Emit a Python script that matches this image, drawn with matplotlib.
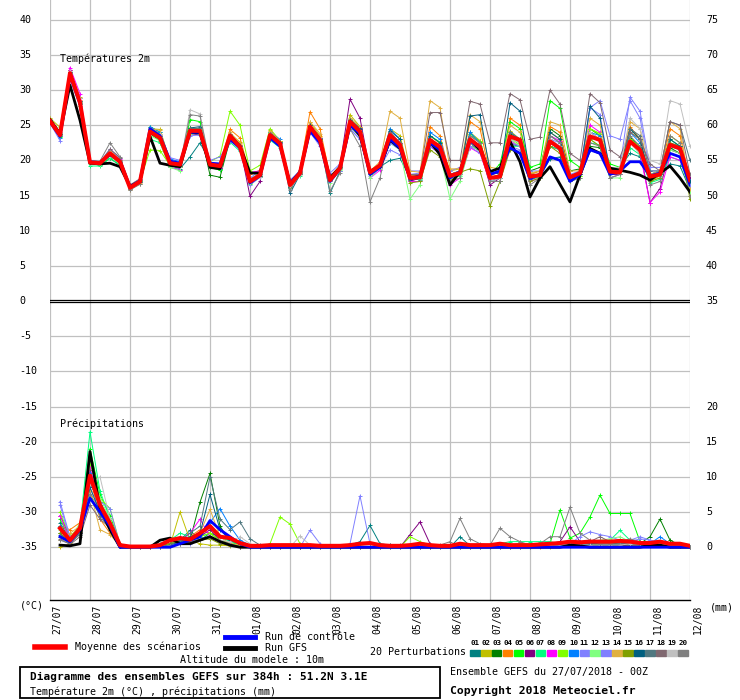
import numpy as np
import matplotlib
matplotlib.use("Agg")
import matplotlib.pyplot as plt
from matplotlib.patches import Rectangle

MONO = "DejaVu Sans Mono"

# forecast steps: every 6h from 27/07 00Z to 12/08 00Z
hours = np.arange(0, 385, 6)
days = ["27/07", "28/07", "29/07", "30/07", "31/07", "01/08", "02/08", "03/08", "04/08",
        "05/08", "06/08", "07/08", "08/08", "09/08", "10/08", "11/08", "12/08"]

# --- temperature 2m (degC), 65 points ---
t_mean = [25.6, 23.6, 32.4, 28.2, 19.7, 19.6, 21.0, 19.8, 16.1, 17.0,
          24.1, 23.2, 19.6, 19.4, 24.2, 24.2, 19.4, 19.2, 23.5, 21.9,
          17.0, 17.9, 23.6, 22.4, 16.5, 18.2, 24.8, 22.9, 17.2, 18.9,
          25.5, 24.1, 18.3, 19.3, 23.6, 22.2, 17.5, 17.6, 22.9, 21.9,
          17.8, 18.2, 23.0, 21.9, 17.5, 17.7, 23.4, 22.9, 17.7, 17.9,
          22.7, 21.7, 17.6, 18.2, 23.4, 22.9, 18.4, 18.3, 22.7, 21.5,
          17.7, 18.0, 22.2, 21.7, 17.2]
t_ctrl = [25.5, 23.4, 32.0, 28.0, 19.8, 19.7, 20.8, 19.9, 16.2, 17.1,
          24.5, 23.5, 19.9, 19.6, 24.0, 24.0, 19.6, 19.5, 23.0, 21.8,
          16.8, 17.8, 23.2, 22.0, 16.7, 18.3, 24.2, 22.5, 17.0, 18.8,
          25.0, 23.8, 18.0, 19.0, 23.0, 21.8, 17.3, 17.8, 22.5, 21.5,
          17.5, 18.4, 22.8, 21.8, 18.0, 18.5, 21.8, 21.0, 17.4, 18.0,
          20.5, 20.0, 17.0, 18.0, 21.5, 21.0, 18.0, 18.5, 19.8, 19.8,
          17.8, 18.2, 21.0, 20.5, 16.5]
t_gfs = [25.8, 23.8, 30.7, 25.7, 19.6, 19.5, 19.6, 19.1, 16.3, 17.0,
         23.4, 19.6, 19.3, 19.1, 24.0, 23.9, 19.0, 18.8, 23.5, 22.0,
         18.2, 18.2, 23.5, 22.3, 16.7, 18.3, 24.5, 22.6, 17.5, 19.0,
         25.2, 23.5, 18.5, 19.0, 22.9, 21.7, 17.5, 17.7, 22.7, 20.8,
         16.5, 18.4, 22.9, 21.5, 18.4, 18.9, 22.7, 19.8, 14.8, 17.5,
         19.1, 16.6, 14.1, 17.9, 21.7, 21.0, 18.9, 18.6, 18.3, 17.9,
         17.2, 18.2, 19.2, 17.5, 15.5]

t01 = [25.8, 23.9, 32.6, 28.5, 19.9, 19.8, 21.2, 19.9, 16.0, 17.1,
       24.0, 23.0, 19.3, 18.8, 20.5, 22.5, 19.8, 19.0, 23.2, 22.0,
       17.3, 18.0, 23.9, 22.6, 16.3, 18.0, 24.4, 23.0, 15.3, 18.5,
       25.9, 24.6, 18.6, 19.1, 20.0, 20.3, 17.5, 17.2, 22.0, 21.4,
       17.2, 18.0, 22.5, 21.8, 17.0, 17.0, 22.3, 22.0, 17.2, 17.7,
       20.2, 20.5, 17.8, 18.5, 21.5, 21.0, 18.8, 19.0, 21.0, 20.5,
       17.0, 18.0, 19.5, 19.2, 15.8]
t02 = [26.0, 24.7, 32.8, 29.0, 19.9, 19.6, 21.0, 19.5, 16.0, 16.6,
       24.5, 24.4, 19.9, 19.0, 24.6, 24.5, 19.0, 18.8, 23.8, 22.6,
       16.9, 18.0, 24.0, 22.8, 16.1, 18.0, 25.4, 23.5, 17.0, 19.0,
       26.5, 24.8, 18.0, 19.5, 24.5, 23.5, 17.8, 18.0, 23.5, 22.4,
       18.5, 18.8, 24.0, 22.8, 17.5, 18.0, 24.2, 23.0, 18.0, 18.5,
       24.0, 23.0, 17.5, 18.5, 24.5, 23.5, 18.0, 18.5, 24.0, 23.0,
       17.0, 17.8, 23.5, 22.5, 15.0]
t03 = [25.4, 23.5, 32.0, 28.0, 19.6, 19.3, 20.3, 19.3, 16.3, 17.0,
       23.8, 22.8, 19.3, 19.2, 24.6, 24.4, 17.9, 17.6, 23.0, 21.6,
       16.9, 17.7, 23.2, 22.0, 16.2, 18.4, 24.8, 23.0, 17.4, 19.0,
       25.3, 24.0, 18.5, 19.4, 23.2, 21.8, 17.2, 17.8, 22.3, 21.0,
       17.5, 18.5, 22.5, 21.2, 17.8, 18.5, 23.8, 23.0, 18.5, 19.0,
       24.5, 23.5, 18.5, 18.8, 22.0, 21.8, 18.2, 18.8, 23.2, 22.0,
       17.2, 18.3, 21.8, 21.0, 16.8]
t04 = [25.9, 23.8, 32.5, 28.6, 20.0, 19.8, 21.3, 20.0, 16.2, 17.2,
       24.6, 23.8, 19.6, 19.3, 24.3, 24.0, 19.6, 19.5, 24.4, 23.2,
       18.0, 18.6, 24.3, 22.7, 16.7, 18.7, 26.9, 24.5, 17.8, 19.2,
       25.8, 24.5, 18.5, 19.5, 24.0, 22.5, 17.8, 17.8, 24.8, 23.5,
       18.0, 18.5, 25.5, 24.5, 18.0, 18.2, 26.0, 25.0, 18.0, 18.5,
       24.8, 24.0, 17.5, 18.3, 24.5, 23.8, 18.5, 18.8, 24.8, 23.0,
       17.5, 18.0, 24.5, 23.5, 17.0]
t05 = [25.5, 23.3, 32.0, 27.8, 19.6, 19.5, 20.8, 19.6, 16.1, 17.0,
       24.8, 24.0, 19.2, 19.0, 25.8, 25.5, 19.0, 18.6, 23.4, 21.6,
       16.6, 17.6, 23.0, 22.0, 16.4, 18.0, 24.2, 22.4, 17.0, 18.8,
       25.0, 23.6, 18.0, 19.2, 23.0, 22.0, 17.3, 17.8, 23.5, 22.6,
       17.0, 18.5, 23.8, 22.6, 18.0, 19.5, 25.5, 24.5, 19.0, 19.5,
       28.5, 27.4, 20.0, 19.0, 24.5, 23.5, 19.5, 19.0, 23.0, 22.0,
       18.0, 18.5, 23.0, 22.0, 16.5]
t06 = [25.7, 23.7, 32.8, 28.8, 19.8, 19.6, 21.3, 20.0, 16.0, 16.9,
       24.4, 23.3, 19.3, 19.0, 23.8, 23.6, 19.0, 18.9, 23.4, 22.0,
       14.9, 17.0, 23.6, 22.5, 16.8, 18.2, 25.0, 23.2, 17.0, 19.2,
       28.7, 26.0, 18.5, 19.3, 23.6, 22.5, 17.0, 17.5, 22.0, 21.0,
       17.0, 18.0, 22.0, 21.5, 16.5, 17.5, 22.5, 22.0, 17.5, 18.0,
       22.0, 21.5, 17.0, 18.0, 24.0, 23.0, 18.0, 18.0, 22.5, 21.5,
       14.0, 16.0, 21.5, 21.0, 17.5]
t07 = [25.5, 23.5, 31.8, 28.0, 19.2, 19.2, 20.3, 19.3, 16.3, 17.2,
       23.0, 22.5, 19.0, 18.7, 24.5, 24.5, 19.0, 18.8, 22.6, 21.3,
       17.3, 18.2, 22.9, 21.8, 16.3, 17.8, 24.0, 22.5, 17.5, 19.3,
       24.8, 23.5, 18.3, 19.0, 22.5, 21.5, 17.7, 17.3, 22.0, 21.5,
       17.5, 17.8, 22.8, 22.0, 17.5, 17.5, 22.0, 22.0, 17.8, 18.0,
       22.0, 21.5, 17.0, 17.8, 22.5, 22.2, 17.5, 18.0, 21.8, 20.8,
       16.8, 17.3, 20.5, 20.0, 16.0]
t08 = [25.8, 24.0, 33.2, 29.5, 19.8, 19.6, 21.5, 20.2, 16.0, 17.0,
       24.2, 23.4, 19.0, 18.7, 24.0, 24.0, 19.2, 18.9, 23.6, 22.0,
       18.3, 18.5, 23.5, 22.3, 16.7, 18.2, 24.5, 22.8, 17.5, 19.0,
       25.0, 23.8, 17.5, 18.6, 23.8, 22.5, 17.0, 17.0, 22.0, 21.0,
       16.5, 17.5, 21.8, 21.0, 17.0, 17.5, 22.8, 22.0, 17.0, 17.5,
       23.5, 22.8, 17.5, 18.0, 25.0, 24.0, 17.5, 18.0, 22.5, 21.0,
       14.0, 15.5, 20.5, 20.0, 16.5]
t09 = [25.6, 23.6, 32.4, 28.2, 19.8, 19.7, 20.9, 19.6, 16.2, 17.0,
       21.5, 21.4, 19.3, 19.0, 24.2, 24.5, 19.8, 20.6, 27.0, 25.0,
       18.5, 19.3, 24.5, 22.8, 16.4, 18.0, 24.5, 22.8, 17.6, 19.0,
       25.2, 24.0, 18.2, 19.3, 22.8, 21.8, 17.6, 17.8, 22.8, 22.0,
       17.2, 18.0, 23.5, 22.8, 17.0, 17.5, 23.2, 22.2, 17.5, 18.0,
       22.5, 21.8, 17.0, 17.8, 24.5, 23.8, 18.5, 18.5, 23.0, 22.0,
       17.5, 18.0, 22.5, 21.5, 16.8]
t10 = [25.4, 23.2, 32.2, 28.1, 19.7, 19.5, 20.7, 19.8, 16.1, 17.0,
       24.8, 24.0, 20.2, 19.8, 24.0, 24.0, 19.5, 19.4, 23.0, 21.8,
       17.0, 18.0, 24.0, 23.0, 16.5, 18.5, 25.0, 23.2, 17.3, 19.0,
       25.5, 24.2, 18.3, 19.5, 24.5, 23.0, 17.5, 17.7, 24.0, 23.0,
       18.0, 18.5, 24.0, 22.5, 17.0, 17.5, 24.0, 23.0, 17.5, 18.2,
       22.5, 21.5, 17.0, 18.0, 24.0, 23.5, 18.5, 18.5, 24.0, 22.5,
       18.0, 18.5, 22.0, 21.5, 17.0]
t11 = [25.3, 22.8, 32.4, 28.0, 19.6, 19.5, 20.8, 19.7, 16.4, 17.2,
       24.0, 23.6, 20.4, 20.0, 23.5, 23.6, 20.0, 20.5, 22.8, 21.5,
       16.5, 17.6, 23.5, 22.6, 17.0, 18.6, 24.0, 22.3, 17.0, 18.5,
       24.5, 23.0, 17.8, 19.0, 21.5, 20.8, 18.0, 18.2, 23.0, 22.0,
       18.0, 18.5, 22.5, 21.5, 18.0, 18.5, 22.0, 21.5, 17.5, 18.0,
       23.0, 22.0, 17.5, 18.0, 27.5, 28.5, 23.5, 23.0, 28.5, 26.0,
       18.5, 18.5, 21.0, 20.5, 16.5]
t12 = [25.7, 23.5, 32.1, 28.0, 19.5, 19.4, 20.6, 19.5, 16.2, 17.1,
       23.5, 22.8, 19.0, 18.5, 23.8, 23.8, 19.2, 19.0, 23.2, 21.6,
       16.8, 17.8, 23.2, 22.2, 16.6, 18.0, 24.5, 22.8, 16.8, 18.6,
       24.8, 23.5, 17.5, 19.0, 23.0, 21.5, 14.5, 16.5, 22.5, 21.0,
       14.5, 17.0, 22.0, 21.5, 17.0, 17.0, 23.0, 22.0, 17.5, 17.5,
       22.5, 21.5, 17.0, 17.5, 23.0, 22.0, 17.5, 17.5, 22.5, 21.0,
       17.0, 17.5, 21.5, 21.0, 15.5]
t13 = [25.5, 23.4, 32.6, 28.3, 19.6, 19.8, 21.6, 20.3, 16.5, 17.3,
       24.5, 23.5, 20.0, 19.5, 24.0, 24.0, 19.5, 19.5, 23.0, 22.0,
       17.5, 18.5, 23.5, 22.5, 17.2, 18.5, 24.0, 22.0, 18.2, 19.5,
       24.5, 23.0, 18.0, 19.0, 22.5, 21.5, 18.5, 18.5, 22.0, 21.0,
       18.5, 19.0, 22.0, 21.0, 17.5, 18.0, 22.5, 22.0, 18.5, 18.5,
       23.0, 22.5, 18.0, 18.5, 27.5, 26.5, 18.5, 19.0, 29.0, 27.0,
       19.0, 19.0, 22.5, 22.0, 17.0]
t14 = [25.9, 24.0, 32.6, 28.8, 20.0, 19.8, 21.4, 20.1, 15.8, 16.8,
       24.5, 24.3, 19.8, 19.4, 24.4, 24.4, 19.5, 19.0, 24.0, 22.4,
       17.2, 18.3, 24.2, 22.8, 16.5, 18.3, 25.5, 23.8, 17.5, 19.0,
       26.0, 24.8, 18.5, 19.8, 27.0, 26.0, 18.5, 18.3, 28.5, 27.5,
       18.8, 18.8, 26.5, 25.5, 19.0, 18.8, 25.0, 24.0, 18.2, 18.5,
       25.5, 25.0, 18.5, 18.5, 26.0, 25.0, 18.5, 19.0, 25.5, 24.5,
       18.0, 18.5, 25.5, 24.5, 16.0]
t15 = [25.6, 23.7, 32.3, 28.3, 19.7, 19.8, 21.0, 19.8, 16.0, 17.0,
       24.0, 23.0, 19.5, 19.2, 24.3, 24.3, 19.2, 19.0, 23.4, 21.8,
       17.0, 17.8, 23.6, 22.4, 16.4, 18.2, 24.8, 22.9, 17.0, 18.9,
       25.4, 24.0, 18.0, 19.0, 23.5, 22.0, 16.8, 17.0, 21.5, 20.5,
       17.5, 18.3, 18.8, 18.5, 13.5, 17.0, 21.5, 21.0, 17.0, 17.5,
       22.0, 21.0, 17.0, 18.0, 23.0, 22.0, 18.0, 18.5, 24.5, 23.0,
       17.0, 17.5, 22.5, 22.0, 14.5]
t16 = [25.8, 23.8, 32.5, 28.4, 19.8, 19.7, 21.1, 19.9, 16.0, 16.9,
       24.2, 23.4, 19.8, 19.4, 24.6, 24.8, 19.4, 19.1, 23.6, 22.0,
       16.8, 17.8, 23.8, 22.6, 15.3, 18.0, 25.0, 23.0, 17.2, 19.0,
       25.8, 24.4, 18.2, 19.4, 24.2, 23.0, 17.5, 17.5, 23.5, 22.5,
       17.5, 18.0, 26.3, 26.5, 18.5, 18.0, 28.2, 27.0, 18.0, 18.0,
       24.0, 23.0, 17.5, 18.0, 27.7, 26.0, 18.5, 18.5, 24.5, 23.0,
       17.5, 18.0, 23.0, 22.0, 17.0]
t17 = [25.5, 23.5, 32.2, 28.0, 19.7, 19.6, 20.9, 19.8, 16.3, 17.2,
       24.0, 23.2, 19.5, 19.2, 24.5, 24.6, 19.6, 19.2, 23.2, 21.6,
       17.0, 17.9, 23.3, 22.2, 16.6, 18.3, 24.6, 22.8, 17.3, 18.9,
       25.0, 23.8, 18.4, 19.3, 23.5, 22.3, 17.7, 17.9, 23.0, 22.0,
       18.0, 18.5, 23.5, 22.5, 17.5, 18.0, 24.0, 23.0, 18.0, 18.0,
       23.5, 22.5, 17.5, 18.5, 23.5, 23.0, 18.5, 18.5, 24.5, 23.5,
       18.5, 18.5, 25.5, 25.0, 20.0]
t18 = [25.7, 23.6, 32.4, 28.4, 19.8, 19.7, 21.6, 20.4, 16.5, 17.4,
       24.2, 23.4, 19.6, 19.3, 24.4, 24.3, 19.4, 19.3, 23.8, 22.2,
       17.2, 18.0, 23.7, 22.5, 17.0, 18.5, 24.6, 22.8, 17.5, 19.3,
       25.2, 24.0, 18.5, 19.5, 24.0, 22.5, 18.0, 18.0, 26.8, 26.8,
       20.0, 20.0, 28.4, 28.0, 22.5, 22.5, 29.5, 28.6, 23.0, 23.3,
       30.0, 28.0, 21.0, 20.0, 29.5, 28.2, 21.5, 20.5, 24.0, 23.0,
       19.5, 18.5, 25.5, 25.0, 18.0]
t19 = [25.9, 24.1, 32.7, 28.8, 19.9, 19.8, 21.2, 19.9, 15.9, 16.6,
       24.3, 23.7, 19.5, 19.0, 27.2, 26.6, 19.5, 19.0, 23.5, 21.8,
       16.8, 17.6, 23.4, 22.2, 16.3, 17.9, 24.5, 22.5, 17.0, 18.8,
       24.8, 23.6, 18.5, 19.5, 23.5, 22.0, 17.5, 17.5, 22.5, 21.5,
       17.5, 18.0, 22.5, 21.5, 17.0, 17.5, 23.0, 22.5, 17.5, 18.0,
       23.0, 22.0, 17.5, 18.5, 24.0, 23.0, 19.0, 19.0, 26.0, 24.5,
       20.0, 19.5, 28.5, 28.0, 22.0]
t20 = [25.6, 23.6, 32.3, 28.1, 19.9, 19.9, 22.5, 20.5, 15.8, 16.6,
       24.0, 23.5, 19.5, 19.4, 26.5, 26.3, 19.5, 19.4, 23.5, 22.0,
       17.4, 18.0, 23.4, 22.3, 15.8, 18.0, 24.2, 22.5, 15.6, 18.2,
       24.5, 22.0, 14.1, 17.5, 23.8, 22.5, 17.5, 17.5, 22.5, 21.5,
       17.0, 17.5, 23.5, 22.5, 17.0, 17.0, 23.5, 22.5, 16.5, 17.5,
       23.5, 22.5, 17.0, 17.5, 22.5, 22.0, 17.5, 18.0, 23.5, 22.0,
       16.5, 17.0, 23.5, 22.5, 15.0]

# --- 6h precipitation (mm), 64 points from +6h ---
p_mean = [2.7, 1.0, 2.7, 10.2, 6.0, 3.4, 0.3, 0.1, 0.1, 0.1, 0.3, 1.0, 1.3, 1.1, 2.0, 3.0,
          1.5, 1.3, 0.6, 0.2, 0.2, 0.3, 0.3, 0.3, 0.3, 0.3, 0.2, 0.2, 0.2, 0.3, 0.5, 0.6,
          0.3, 0.2, 0.2, 0.3, 0.5, 0.3, 0.2, 0.2, 0.5, 0.3, 0.3, 0.3, 0.5, 0.3, 0.3, 0.3,
          0.4, 0.5, 0.6, 0.8, 0.7, 0.8, 0.8, 0.8, 0.9, 0.8, 0.6, 0.6, 0.8, 0.5, 0.5, 0.2]
p_ctrl = [1.5, 0.8, 2.5, 7.0, 5.0, 3.0, 0.0, 0.0, 0.0, 0.0, 0.0, 0.0, 0.5, 1.0, 1.5, 3.8,
          2.5, 1.5, 0.5, 0.0, 0.0, 0.0, 0.0, 0.0, 0.0, 0.0, 0.0, 0.0, 0.0, 0.0, 0.0, 0.0,
          0.0, 0.0, 0.0, 0.0, 0.0, 0.0, 0.0, 0.0, 0.0, 0.0, 0.0, 0.0, 0.0, 0.0, 0.0, 0.0,
          0.0, 0.0, 0.0, 0.0, 0.0, 0.0, 0.0, 0.0, 0.0, 0.0, 0.0, 0.0, 0.0, 0.0, 0.0, 0.0]
p_gfs = [0.3, 0.2, 0.5, 13.6, 5.5, 2.5, 0.0, 0.0, 0.0, 0.0, 1.0, 1.3, 0.5, 0.5, 1.0, 1.5,
         0.8, 0.3, 0.0, 0.0, 0.0, 0.0, 0.0, 0.0, 0.0, 0.0, 0.0, 0.0, 0.0, 0.0, 0.0, 0.0,
         0.0, 0.0, 0.0, 0.0, 0.0, 0.0, 0.0, 0.0, 0.0, 0.0, 0.0, 0.0, 0.0, 0.0, 0.0, 0.0,
         0.0, 0.0, 0.0, 0.3, 0.2, 0.0, 0.0, 0.0, 0.0, 0.0, 0.0, 0.3, 0.3, 0.0, 0.0, 0.0]

p01 = [3.5, 1.0, 2.0, 9.0, 6.5, 3.5, 0.3, 0.0, 0.0, 0.0, 0.3, 0.5, 1.0, 2.4, 1.0, 2.0,
       1.5, 1.0, 0.5, 0.2, 0.0, 0.0, 0.0, 0.0, 0.0, 0.0, 0.0, 0.0, 0.0, 0.3, 0.8, 3.1,
       0.5, 0.3, 0.0, 0.0, 0.0, 0.3, 0.0, 0.0, 1.5, 0.2, 0.0, 0.0, 0.0, 0.3, 0.5, 0.3,
       0.5, 0.5, 0.5, 0.3, 0.8, 0.5, 0.3, 0.5, 0.3, 0.3, 0.5, 0.3, 0.5, 0.3, 0.3, 0.1]
p02 = [0.0, 0.5, 2.0, 7.5, 5.5, 3.0, 0.2, 0.0, 0.0, 0.0, 0.0, 0.2, 5.0, 1.0, 0.5, 0.3,
       0.3, 0.2, 0.0, 0.0, 0.0, 0.0, 0.0, 0.0, 0.0, 0.0, 0.0, 0.0, 0.0, 0.0, 0.2, 0.0,
       0.0, 0.0, 0.0, 0.3, 0.0, 0.0, 0.0, 0.0, 0.0, 0.0, 0.0, 0.0, 0.0, 0.0, 0.0, 0.0,
       0.2, 0.0, 0.3, 0.2, 0.5, 0.5, 0.3, 0.3, 0.5, 0.5, 0.3, 0.2, 0.3, 0.2, 0.2, 0.1]
p03 = [2.0, 0.8, 2.5, 11.0, 6.0, 3.0, 0.2, 0.0, 0.0, 0.0, 0.0, 0.3, 1.0, 1.0, 6.4, 10.5,
       3.0, 0.8, 0.3, 0.0, 0.0, 0.0, 0.0, 0.0, 0.0, 0.0, 0.0, 0.0, 0.0, 0.0, 0.0, 0.0,
       0.0, 0.0, 0.0, 0.0, 0.0, 0.0, 0.0, 0.0, 0.0, 0.0, 0.0, 0.0, 0.0, 0.0, 0.3, 0.3,
       0.3, 0.3, 0.5, 0.5, 0.5, 0.5, 0.3, 0.3, 0.3, 0.3, 0.5, 1.5, 4.0, 1.0, 0.3, 0.1]
p04 = [3.0, 2.5, 3.5, 10.0, 4.0, 2.0, 0.5, 0.0, 0.0, 0.0, 0.0, 0.3, 0.8, 1.5, 2.5, 2.0,
       1.0, 0.5, 0.2, 0.0, 0.0, 0.0, 0.0, 0.0, 0.0, 0.0, 0.0, 0.0, 0.0, 0.0, 0.0, 0.0,
       0.0, 0.0, 0.0, 0.0, 0.0, 0.0, 0.0, 0.0, 0.0, 0.0, 0.0, 0.0, 0.0, 0.0, 0.0, 0.0,
       0.0, 0.3, 0.5, 0.5, 0.3, 0.3, 0.5, 0.3, 0.3, 0.3, 0.3, 0.3, 0.3, 0.3, 0.2, 0.1]
p05 = [4.0, 1.2, 3.0, 14.0, 7.5, 4.5, 0.5, 0.0, 0.0, 0.0, 0.0, 0.2, 0.5, 1.5, 1.5, 2.0,
       1.0, 0.5, 0.2, 0.0, 0.0, 0.0, 0.0, 0.0, 0.0, 0.0, 0.0, 0.0, 0.0, 0.0, 0.0, 0.0,
       0.0, 0.0, 0.0, 0.0, 0.0, 0.0, 0.0, 0.0, 0.0, 0.0, 0.0, 0.0, 0.0, 0.3, 0.5, 0.5,
       0.5, 0.5, 5.3, 1.3, 2.0, 4.3, 7.4, 4.8, 4.8, 4.8, 0.8, 0.3, 0.5, 0.5, 0.3, 0.1]
p06 = [4.5, 1.5, 2.5, 9.5, 6.0, 3.5, 0.3, 0.0, 0.0, 0.0, 0.0, 0.5, 1.5, 1.0, 1.5, 2.5,
       1.0, 0.5, 0.0, 0.0, 0.0, 0.0, 0.0, 0.0, 0.0, 0.0, 0.0, 0.0, 0.0, 0.0, 0.0, 0.0,
       0.0, 0.0, 0.0, 1.8, 3.6, 0.5, 0.0, 0.0, 0.0, 0.0, 0.0, 0.0, 0.0, 0.0, 0.0, 0.0,
       0.3, 0.5, 0.8, 2.9, 0.8, 0.3, 0.3, 0.3, 0.3, 0.3, 0.3, 0.3, 0.3, 0.3, 0.2, 0.1]
p07 = [3.0, 1.0, 3.0, 16.4, 8.0, 4.0, 0.3, 0.0, 0.0, 0.0, 0.5, 1.0, 2.0, 1.5, 2.0, 3.0,
       1.5, 0.8, 0.3, 0.0, 0.0, 0.0, 0.0, 0.0, 0.0, 0.0, 0.0, 0.0, 0.0, 0.0, 0.0, 0.0,
       0.0, 0.0, 0.0, 0.0, 0.0, 0.0, 0.0, 0.0, 0.0, 0.0, 0.0, 0.0, 0.5, 0.8, 0.8, 0.8,
       0.8, 0.8, 0.5, 0.5, 0.5, 0.5, 0.5, 1.0, 2.4, 1.0, 0.5, 0.3, 0.3, 0.3, 0.2, 0.1]
p08 = [4.5, 1.0, 2.0, 11.5, 5.5, 3.0, 0.2, 0.0, 0.0, 0.0, 0.0, 0.3, 0.8, 2.0, 4.0, 1.5,
       0.8, 0.3, 0.0, 0.0, 0.0, 0.0, 0.0, 0.0, 0.0, 0.0, 0.0, 0.0, 0.0, 0.0, 0.0, 0.0,
       0.0, 0.0, 0.0, 0.0, 0.0, 0.0, 0.0, 0.0, 0.0, 0.0, 0.0, 0.0, 0.0, 0.0, 0.0, 0.0,
       0.3, 0.3, 0.3, 0.5, 0.3, 0.3, 0.3, 0.5, 0.5, 0.3, 0.3, 0.3, 0.3, 0.3, 0.2, 0.1]
p09 = [5.0, 1.5, 3.0, 12.0, 7.0, 5.5, 0.5, 0.0, 0.0, 0.0, 0.0, 0.5, 1.0, 1.0, 1.5, 2.0,
       1.0, 0.5, 0.3, 0.0, 0.0, 0.5, 4.3, 3.3, 0.5, 0.0, 0.0, 0.0, 0.0, 0.0, 0.0, 0.0,
       0.0, 0.0, 0.0, 1.5, 0.8, 0.3, 0.0, 0.0, 0.0, 0.0, 0.0, 0.0, 0.0, 0.0, 0.0, 0.0,
       0.3, 0.3, 0.3, 0.3, 0.5, 0.5, 0.5, 0.5, 0.5, 0.5, 0.3, 0.3, 0.5, 0.3, 0.2, 0.1]
p10 = [3.0, 0.8, 2.5, 10.5, 6.0, 3.0, 0.3, 0.0, 0.0, 0.0, 0.0, 0.3, 0.8, 1.0, 1.5, 3.5,
       5.5, 3.0, 1.0, 0.3, 0.0, 0.0, 0.0, 0.0, 0.0, 0.0, 0.0, 0.0, 0.0, 0.0, 0.0, 0.0,
       0.0, 0.0, 0.0, 0.0, 0.0, 0.0, 0.0, 0.0, 0.0, 0.0, 0.0, 0.0, 0.0, 0.0, 0.0, 0.0,
       0.3, 0.3, 0.5, 0.5, 0.5, 0.3, 0.3, 0.3, 0.5, 0.5, 0.5, 0.5, 1.5, 0.5, 0.3, 0.1]
p11 = [6.5, 1.5, 2.0, 8.5, 5.0, 3.0, 0.2, 0.0, 0.0, 0.0, 0.0, 0.3, 0.5, 0.5, 1.0, 1.5,
       0.8, 0.3, 0.0, 0.0, 0.0, 0.0, 0.0, 0.0, 0.0, 0.0, 0.0, 0.0, 0.0, 0.5, 7.3, 0.5,
       0.0, 0.0, 0.0, 0.0, 0.0, 0.0, 0.0, 0.0, 0.0, 0.0, 0.0, 0.0, 0.0, 0.0, 0.0, 0.0,
       0.3, 0.3, 0.5, 0.5, 1.5, 2.2, 1.8, 1.5, 1.0, 1.0, 1.5, 1.0, 0.5, 0.5, 0.3, 0.1]
p12 = [2.5, 1.0, 3.5, 12.5, 7.0, 4.0, 0.4, 0.0, 0.0, 0.0, 0.0, 0.3, 0.5, 0.8, 1.0, 1.5,
       0.8, 0.3, 0.0, 0.0, 0.0, 0.0, 0.0, 0.0, 0.0, 0.0, 0.0, 0.0, 0.0, 0.0, 0.0, 0.0,
       0.0, 0.0, 0.0, 0.0, 0.0, 0.0, 0.0, 0.0, 0.0, 0.0, 0.0, 0.0, 0.0, 0.0, 0.0, 0.0,
       0.3, 0.3, 0.3, 0.5, 0.5, 0.8, 1.0, 1.2, 1.5, 0.8, 0.5, 0.5, 0.5, 0.3, 0.2, 0.1]
p13 = [6.0, 1.2, 2.5, 9.0, 6.5, 5.5, 0.3, 0.0, 0.0, 0.0, 0.0, 0.2, 0.5, 0.8, 1.2, 1.5,
       0.8, 0.5, 0.0, 0.0, 0.0, 0.0, 0.0, 0.0, 0.0, 2.4, 0.5, 0.0, 0.0, 0.0, 0.0, 0.0,
       0.0, 0.0, 0.0, 0.0, 0.0, 0.0, 0.0, 0.0, 0.0, 0.0, 0.0, 0.0, 0.0, 0.0, 0.0, 0.0,
       0.3, 0.3, 0.3, 0.5, 0.5, 0.5, 0.5, 0.8, 0.8, 0.8, 1.2, 1.0, 0.8, 0.5, 0.3, 0.1]
p14 = [1.0, 2.0, 3.0, 8.0, 2.5, 1.8, 0.2, 0.0, 0.0, 0.0, 0.0, 0.3, 1.0, 1.5, 2.0, 5.4,
       1.5, 0.5, 0.3, 0.0, 0.0, 0.0, 0.0, 0.0, 0.0, 0.0, 0.0, 0.0, 0.0, 0.0, 0.0, 0.0,
       0.0, 0.0, 0.0, 0.0, 0.0, 0.0, 0.0, 0.0, 0.0, 0.0, 0.0, 0.0, 0.0, 0.0, 0.0, 0.0,
       0.3, 0.3, 0.3, 0.3, 0.3, 0.3, 0.5, 0.5, 0.5, 0.3, 0.3, 0.3, 0.3, 0.3, 0.2, 0.1]
p15 = [2.0, 0.6, 2.2, 9.5, 5.5, 3.2, 0.2, 0.0, 0.0, 0.0, 0.3, 0.5, 0.8, 1.0, 1.0, 1.2,
       0.5, 0.3, 0.0, 0.0, 0.0, 0.0, 0.0, 0.0, 0.0, 0.0, 0.0, 0.0, 0.0, 0.0, 0.0, 0.0,
       0.0, 0.0, 0.0, 0.0, 0.0, 0.0, 0.0, 0.0, 0.0, 0.0, 0.0, 0.0, 0.0, 0.0, 0.0, 0.0,
       0.3, 0.3, 0.3, 0.3, 0.5, 0.5, 0.3, 0.3, 0.3, 0.5, 0.8, 0.5, 0.3, 0.3, 0.2, 0.1]
p16 = [1.5, 0.5, 2.0, 8.5, 5.0, 3.0, 0.2, 0.0, 0.0, 0.0, 0.0, 0.3, 0.8, 1.5, 2.0, 7.5,
       2.5, 1.0, 0.5, 0.2, 0.0, 0.0, 0.0, 0.0, 0.0, 0.0, 0.0, 0.0, 0.0, 0.0, 0.0, 0.0,
       0.0, 0.0, 0.0, 0.0, 0.0, 0.0, 0.0, 0.0, 0.0, 0.0, 0.0, 0.0, 0.0, 0.0, 0.0, 0.0,
       0.3, 0.5, 0.5, 0.5, 0.5, 0.5, 0.5, 0.5, 0.5, 0.5, 0.5, 0.5, 0.8, 0.5, 0.3, 0.1]
p17 = [1.8, 0.7, 1.8, 7.0, 4.5, 2.5, 0.2, 0.0, 0.0, 0.0, 0.0, 0.3, 1.0, 2.0, 3.0, 10.0,
       4.0, 2.5, 3.6, 1.2, 0.3, 0.0, 0.0, 0.0, 0.0, 0.0, 0.0, 0.0, 0.0, 0.0, 0.0, 0.0,
       0.0, 0.0, 0.0, 0.0, 0.0, 0.0, 0.0, 0.0, 0.0, 0.0, 0.0, 0.0, 0.0, 0.0, 0.0, 0.0,
       0.3, 0.3, 0.3, 0.3, 0.3, 0.3, 0.3, 0.3, 0.3, 0.3, 0.3, 0.3, 0.3, 0.3, 0.2, 0.1]
p18 = [1.2, 0.4, 1.5, 6.0, 4.0, 2.8, 0.2, 0.0, 0.0, 0.0, 0.0, 0.2, 0.5, 0.8, 1.0, 1.5,
       0.8, 0.5, 0.0, 0.0, 0.0, 0.0, 0.0, 0.0, 0.0, 0.0, 0.0, 0.0, 0.0, 0.0, 0.0, 0.0,
       0.0, 0.0, 0.0, 0.0, 0.0, 0.0, 0.0, 0.0, 0.0, 0.0, 0.0, 0.0, 0.0, 0.0, 0.0, 0.0,
       0.3, 0.3, 0.3, 0.3, 0.5, 0.8, 1.5, 0.8, 0.5, 0.5, 0.5, 0.3, 0.3, 0.3, 0.2, 0.1]
p19 = [1.5, 1.0, 2.5, 9.0, 10.0, 4.0, 0.3, 0.0, 0.0, 0.0, 0.0, 0.2, 0.5, 0.8, 1.0, 1.5,
       1.0, 0.8, 1.5, 0.5, 0.0, 0.0, 0.0, 0.0, 1.6, 0.3, 0.0, 0.0, 0.0, 0.0, 0.0, 0.0,
       0.0, 0.0, 0.0, 0.0, 0.0, 0.0, 0.0, 0.0, 0.0, 0.0, 0.0, 0.0, 0.0, 0.0, 0.0, 0.0,
       0.3, 0.3, 0.3, 0.3, 0.3, 0.3, 0.3, 0.3, 0.3, 0.5, 0.5, 0.3, 0.3, 0.3, 0.2, 0.1]
p20 = [1.0, 0.5, 2.0, 7.5, 6.5, 3.0, 0.2, 0.0, 0.0, 0.0, 0.0, 0.2, 0.5, 0.8, 1.0, 1.5,
       0.8, 0.3, 0.0, 0.0, 0.0, 0.0, 0.0, 0.0, 0.0, 0.0, 0.0, 0.0, 0.0, 0.0, 0.0, 0.0,
       0.3, 0.3, 0.3, 0.0, 0.0, 0.0, 0.3, 0.8, 4.1, 1.2, 0.5, 0.3, 2.7, 1.5, 0.8, 0.3,
       0.5, 1.5, 1.5, 5.7, 2.0, 1.0, 0.5, 0.5, 0.8, 1.2, 0.8, 0.5, 0.3, 0.3, 0.2, 0.1]

member_colors = ["#008080", "#c0c000", "#008000", "#ff8000", "#00ff00", "#800080", "#00ff80",
                 "#ff00ff", "#80ff00", "#0080ff", "#8080ff", "#80ff80", "#8080ff", "#e0b040",
                 "#80a000", "#006080", "#507880", "#806870", "#c0c0c0", "#808080"]
temp_members = [t01, t02, t03, t04, t05, t06, t07, t08, t09, t10,
                t11, t12, t13, t14, t15, t16, t17, t18, t19, t20]
rain_members = [p01, p02, p03, p04, p05, p06, p07, p08, p09, p10,
                p11, p12, p13, p14, p15, p16, p17, p18, p19, p20]

PRECIP_ZERO = -35  # precipitation 0 mm sits on the -35 line of the temperature scale

W, H = 740, 700
fig = plt.figure(figsize=(W / 100, H / 100), dpi=100)
ax = fig.add_axes([50 / W, 100 / H, 640 / W, 600 / H])
ax.set_xlim(hours[0], hours[-1])
ax.set_ylim(-42.5, 42.8)

# grid
for h in hours[::4]:
    ax.axvline(h, color="#c0c0c0", lw=0.9, zorder=0)
for yv in range(-35, 41, 5):
    if yv != 0:
        ax.axhline(yv, color="#c0c0c0", lw=0.9, zorder=0)
ax.axhline(0.16, color="black", lw=0.9, zorder=1)
ax.axhline(-0.16, color="black", lw=0.9, zorder=1)

th = hours
ph = hours[1:]
for col, tm, pm in zip(member_colors, temp_members, rain_members):
    ax.plot(th, tm, color=col, lw=0.7, marker="+", ms=3, mew=0.7, zorder=2)
    ax.plot(ph, np.array(pm) + PRECIP_ZERO, color=col, lw=0.7, marker="+", ms=3, mew=0.7, zorder=2)

ax.plot(th, t_gfs, color="black", lw=2.0, zorder=3)
ax.plot(ph, np.array(p_gfs) + PRECIP_ZERO, color="black", lw=2.0, zorder=3)
ax.plot(th, t_ctrl, color="#0000ff", lw=2.0, zorder=4)
ax.plot(ph, np.array(p_ctrl) + PRECIP_ZERO, color="#0000ff", lw=2.0, zorder=4)
ax.plot(th, t_mean, color="#ff0000", lw=2.9, zorder=5)
ax.plot(ph, np.array(p_mean) + PRECIP_ZERO, color="#ff0000", lw=2.9, zorder=5)

# axes styling
for s in ["top", "left", "right"]:
    ax.spines[s].set_visible(False)
ax.spines["bottom"].set_color("black")
ax.spines["bottom"].set_linewidth(1.0)
ax.set_xticks([])
ax.set_yticks([])

left_ticks = list(range(40, -36, -5))
for v in left_ticks:
    ax.text(-0.048, v, str(v), transform=ax.get_yaxis_transform(), fontsize=7.2,
            family=MONO, ha="left", va="center")
right_ticks = list(range(40, -1, -5)) + list(range(-15, -36, -5))
for v in right_ticks:
    lab = v + 35 if v >= 0 else v - PRECIP_ZERO
    ax.text(1.025, v, str(lab), transform=ax.get_yaxis_transform(), fontsize=7.2,
            family=MONO, ha="left", va="center")

# date labels sit ~3 px right of each day line (10 px = 6 h)
for i, d in enumerate(days):
    ax.text(hours[i * 4] + 1.6, -0.008, d, transform=ax.get_xaxis_transform(), rotation=90,
            fontsize=7.0, family=MONO, ha="left", va="top")

ax.text(hours[1], 34.5, "Températures 2m", fontsize=7.2, family=MONO, ha="left", va="center")
ax.text(hours[1], -17.4, "Précipitations", fontsize=7.2, family=MONO, ha="left", va="center")


def ftext(x, y, s, **kw):
    kw.setdefault("fontsize", 7.2)
    kw.setdefault("family", MONO)
    kw.setdefault("va", "center")
    fig.text(x / W, 1 - y / H, s, **kw)


ftext(20, 606, "(°C)")
ftext(710, 607, "(mm)")

# legend
fig.add_artist(plt.Line2D([35 / W, 65 / W], [1 - 647 / H] * 2, color="#ff0000", lw=4))
ftext(75, 647, "Moyenne des scénarios")
fig.add_artist(plt.Line2D([225 / W, 255 / W], [1 - 637 / H] * 2, color="#0000ff", lw=3.5))
ftext(265, 637, "Run de contrôle")
fig.add_artist(plt.Line2D([225 / W, 255 / W], [1 - 647.5 / H] * 2, color="black", lw=3.5))
ftext(265, 648, "Run GFS")
ftext(180, 660, "Altitude du modele : 10m")
ftext(370, 652, "20 Perturbations")

for k, col in enumerate(member_colors):
    x0 = 470 + k * 10.95
    fig.add_artist(Rectangle((x0 / W, 1 - 656 / H), 9.6 / W, 6 / H, color=col,
                             transform=fig.transFigure))
    ftext(x0 + 4.8, 643, "%02d" % (k + 1), fontsize=5.4, ha="center", weight="bold")

fig.add_artist(Rectangle((20 / W, 1 - 698 / H), 420 / W, 31 / H, fill=False, edgecolor="black",
                         lw=1.3, transform=fig.transFigure))
ftext(30, 677, "Diagramme des ensembles GEFS sur 384h : 51.2N 3.1E", fontsize=8.0, weight="bold")
ftext(30, 692, "Température 2m (°C) , précipitations (mm)")
ftext(450, 672, "Ensemble GEFS du 27/07/2018 - 00Z")
ftext(450, 691, "Copyright 2018 Meteociel.fr", fontsize=8.2, weight="bold")

fig.savefig("out.png", dpi=100, facecolor="white")
